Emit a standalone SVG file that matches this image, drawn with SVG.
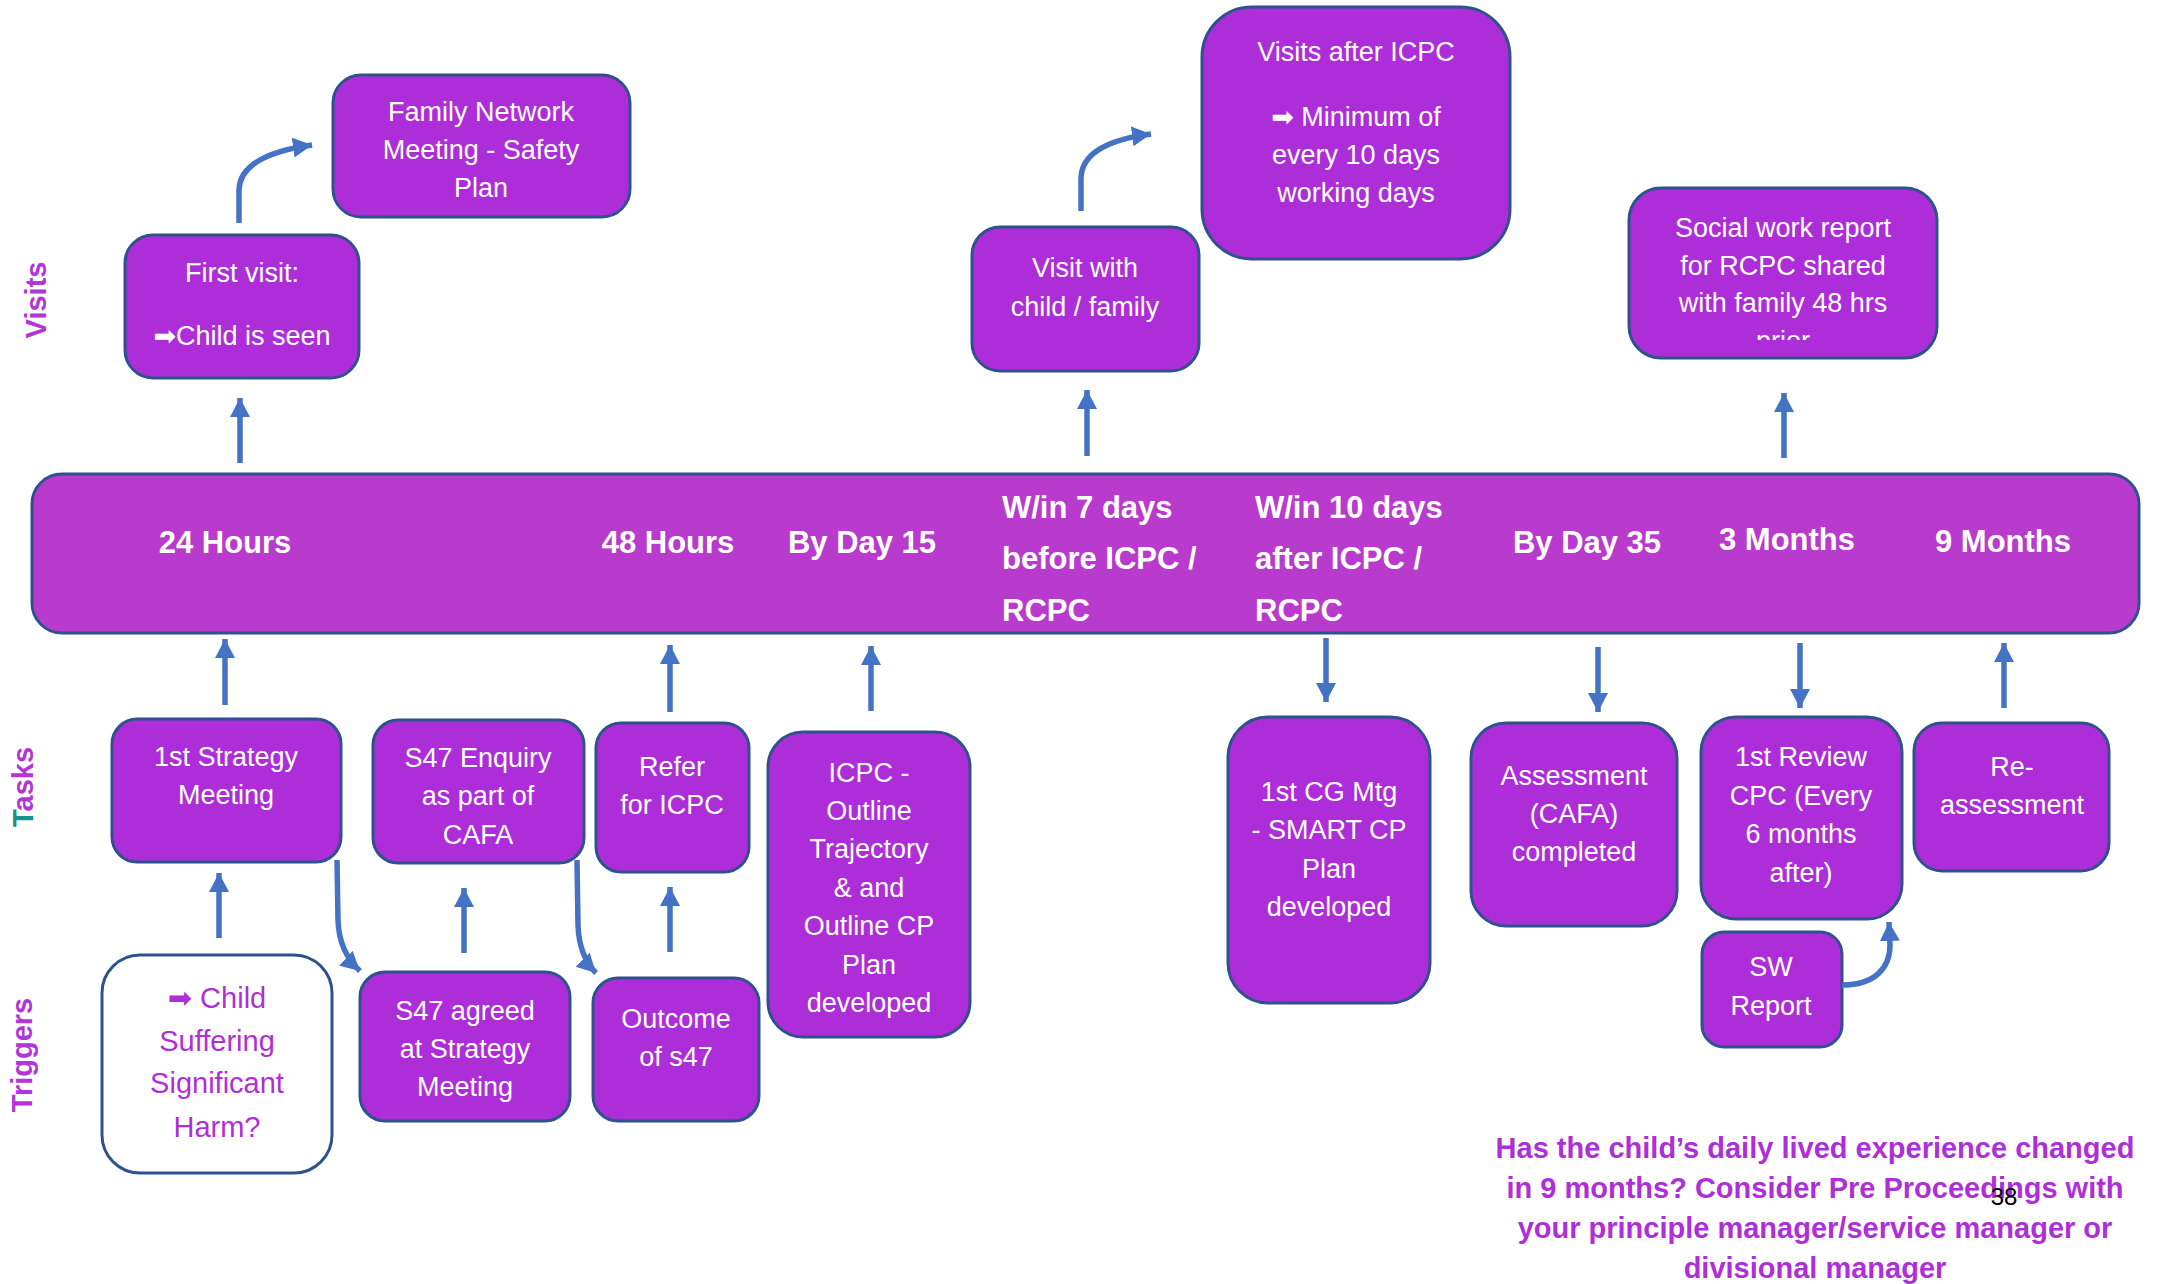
<svg xmlns="http://www.w3.org/2000/svg" width="2161" height="1284" viewBox="0 0 2161 1284">
<style>
.box{fill:#AD2ED9;stroke:#2F528F;stroke-width:3}
.wbox{fill:#FFFFFF;stroke:#2F528F;stroke-width:3}
.bar{fill:#B83BCD;stroke:#2F528F;stroke-width:3}
.t{font-family:"Liberation Sans",Arial,"DejaVu Sans",sans-serif;font-size:27px;fill:#FFFFFF;text-anchor:middle}
.tb{font-family:"Liberation Sans",Arial,"DejaVu Sans",sans-serif;font-size:31px;font-weight:bold;fill:#FFFFFF}
.tp{font-family:"Liberation Sans",Arial,"DejaVu Sans",sans-serif;font-size:29px;fill:#AE2FD8;text-anchor:middle}
.lab{font-family:"Liberation Sans",Arial,sans-serif;font-size:29px;font-weight:bold;fill:#B235D8;text-anchor:middle}
.note{font-family:"Liberation Sans",Arial,sans-serif;font-size:29px;font-weight:bold;fill:#AE2FD8;text-anchor:middle}
.arr{fill:none;stroke:#4472C4;stroke-width:5.5;marker-end:url(#ah)}
</style>
<defs>
<marker id="ah" markerUnits="userSpaceOnUse" markerWidth="22" markerHeight="22" refX="19" refY="10" orient="auto">
<path d="M0,0 L19,10 L0,20 z" fill="#4472C4"/>
</marker>
<clipPath id="socclip"><rect x="1629" y="188" width="308" height="152"/></clipPath>
</defs>
<rect width="2161" height="1284" fill="#FFFFFF"/>

<g id="labels">
<text class="lab" transform="translate(36,300) rotate(-90)" dy="10">Visits</text>
<text class="lab" transform="translate(23,787) rotate(-90)" dy="10"><tspan fill="#13958C">T</tspan>asks</text>
<text class="lab" transform="translate(22,1055) rotate(-90)" dy="10">Triggers</text>
</g>

<g id="timeline">
<rect class="bar" x="32" y="474" width="2107" height="159" rx="30"/>
<text class="tb" x="225" y="553" text-anchor="middle">24 Hours</text>
<text class="tb" x="668" y="553" text-anchor="middle">48 Hours</text>
<text class="tb" x="862" y="553" text-anchor="middle">By Day 15</text>
<text class="tb" x="1002" y="518">W/in 7 days</text>
<text class="tb" x="1002" y="569">before ICPC /</text>
<text class="tb" x="1002" y="621">RCPC</text>
<text class="tb" x="1255" y="518">W/in 10 days</text>
<text class="tb" x="1255" y="569">after ICPC /</text>
<text class="tb" x="1255" y="621">RCPC</text>
<text class="tb" x="1587" y="553" text-anchor="middle">By Day 35</text>
<text class="tb" x="1787" y="550" text-anchor="middle">3 Months</text>
<text class="tb" x="2003" y="552" text-anchor="middle">9 Months</text>
</g>

<g id="first-visit">
<rect class="box" x="125" y="235" width="234" height="143" rx="28"/>
<text class="t" x="242" y="282">First visit:</text>
<text class="t" x="242" y="345">➡Child is seen</text>
</g>
<g id="family-network">
<rect class="box" x="333" y="75" width="297" height="142" rx="28"/>
<text class="t" x="481" y="121">Family Network</text>
<text class="t" x="481" y="159">Meeting - Safety</text>
<text class="t" x="481" y="197">Plan</text>
</g>
<g id="visit-child">
<rect class="box" x="972" y="227" width="227" height="144" rx="28"/>
<text class="t" x="1085" y="277">Visit with</text>
<text class="t" x="1085" y="316">child / family</text>
</g>
<g id="visits-after">
<rect class="box" x="1202" y="7" width="308" height="252" rx="50"/>
<text class="t" x="1356" y="61">Visits after ICPC</text>
<text class="t" x="1356" y="126">➡ Minimum of</text>
<text class="t" x="1356" y="164">every 10 days</text>
<text class="t" x="1356" y="202">working days</text>
</g>
<g id="social-report">
<rect class="box" x="1629" y="188" width="308" height="170" rx="32"/>
<text class="t" x="1783" y="237">Social work report</text>
<text class="t" x="1783" y="275">for RCPC shared</text>
<text class="t" x="1783" y="312">with family 48 hrs</text>
<text class="t" x="1783" y="350" clip-path="url(#socclip)">prior</text>
</g>

<g id="strategy">
<rect class="box" x="112" y="719" width="229" height="143" rx="25"/>
<text class="t" x="226" y="766">1st Strategy</text>
<text class="t" x="226" y="804">Meeting</text>
</g>
<g id="s47-enquiry">
<rect class="box" x="373" y="720" width="211" height="143" rx="25"/>
<text class="t" x="478" y="767">S47 Enquiry</text>
<text class="t" x="478" y="805">as part of</text>
<text class="t" x="478" y="844">CAFA</text>
</g>
<g id="refer">
<rect class="box" x="596" y="723" width="153" height="149" rx="25"/>
<text class="t" x="672" y="776">Refer</text>
<text class="t" x="672" y="814">for ICPC</text>
</g>
<g id="icpc">
<rect class="box" x="768" y="732" width="202" height="305" rx="35"/>
<text class="t" x="869" y="782">ICPC -</text>
<text class="t" x="869" y="820">Outline</text>
<text class="t" x="869" y="858">Trajectory</text>
<text class="t" x="869" y="897">&amp; and</text>
<text class="t" x="869" y="935">Outline CP</text>
<text class="t" x="869" y="974">Plan</text>
<text class="t" x="869" y="1012">developed</text>
</g>
<g id="cg-meeting">
<rect class="box" x="1228" y="717" width="202" height="286" rx="40"/>
<text class="t" x="1329" y="801">1st CG Mtg</text>
<text class="t" x="1329" y="839">- SMART CP</text>
<text class="t" x="1329" y="878">Plan</text>
<text class="t" x="1329" y="916">developed</text>
</g>
<g id="assessment">
<rect class="box" x="1471" y="723" width="206" height="203" rx="35"/>
<text class="t" x="1574" y="785">Assessment</text>
<text class="t" x="1574" y="823">(CAFA)</text>
<text class="t" x="1574" y="861">completed</text>
</g>
<g id="review">
<rect class="box" x="1701" y="717" width="201" height="202" rx="35"/>
<text class="t" x="1801" y="766">1st Review</text>
<text class="t" x="1801" y="805">CPC (Every</text>
<text class="t" x="1801" y="843">6 months</text>
<text class="t" x="1801" y="882">after)</text>
</g>
<g id="reassessment">
<rect class="box" x="1914" y="723" width="195" height="148" rx="28"/>
<text class="t" x="2012" y="776">Re-</text>
<text class="t" x="2012" y="814">assessment</text>
</g>
<g id="sw-report">
<rect class="box" x="1702" y="932" width="140" height="115" rx="22"/>
<text class="t" x="1771" y="976">SW</text>
<text class="t" x="1771" y="1015">Report</text>
</g>

<g id="child-harm">
<rect class="wbox" x="102" y="955" width="230" height="218" rx="38"/>
<text class="tp" x="217" y="1008">➡ Child</text>
<text class="tp" x="217" y="1051">Suffering</text>
<text class="tp" x="217" y="1093">Significant</text>
<text class="tp" x="217" y="1137">Harm?</text>
</g>
<g id="s47-agreed">
<rect class="box" x="360" y="972" width="210" height="149" rx="25"/>
<text class="t" x="465" y="1020">S47 agreed</text>
<text class="t" x="465" y="1058">at Strategy</text>
<text class="t" x="465" y="1096">Meeting</text>
</g>
<g id="outcome">
<rect class="box" x="593" y="978" width="166" height="143" rx="25"/>
<text class="t" x="676" y="1028">Outcome</text>
<text class="t" x="676" y="1066">of s47</text>
</g>

<g id="connectors">
<path class="arr" d="M240,463 L240,398"/>
<path class="arr" d="M1087,456 L1087,390"/>
<path class="arr" d="M1784,458 L1784,393"/>
<path class="arr" d="M225,705 L225,639"/>
<path class="arr" d="M670,712 L670,645"/>
<path class="arr" d="M871,711 L871,646"/>
<path class="arr" d="M1326,638 L1326,702"/>
<path class="arr" d="M1598,647 L1598,712"/>
<path class="arr" d="M1800,643 L1800,708"/>
<path class="arr" d="M2004,708 L2004,643"/>
<path class="arr" d="M219,938 L219,873"/>
<path class="arr" d="M464,953 L464,888"/>
<path class="arr" d="M670,952 L670,887"/>
<path class="arr" d="M239,223 L239,190 Q240,155 312,145"/>
<path class="arr" d="M1081,211 L1081,178 Q1082,143 1151,134"/>
<path class="arr" d="M337,860 L338,920 Q339,952 360,971"/>
<path class="arr" d="M577,860 L578,925 Q579,956 596,973"/>
<path class="arr" d="M1842,985 C1875,985 1890,968 1890,945 L1889,922"/>
</g>

<g id="note">
<text class="note" x="1815" y="1158">Has the child’s daily lived experience changed</text>
<text class="note" x="1815" y="1198">in 9 months? Consider Pre Proceedings with</text>
<text class="note" x="1815" y="1238">your principle manager/service manager or</text>
<text class="note" x="1815" y="1278">divisional manager</text>
<text x="2004" y="1205" text-anchor="middle" font-family="Liberation Sans, Arial, sans-serif" font-size="24" fill="#000000">38</text>
</g>
</svg>
